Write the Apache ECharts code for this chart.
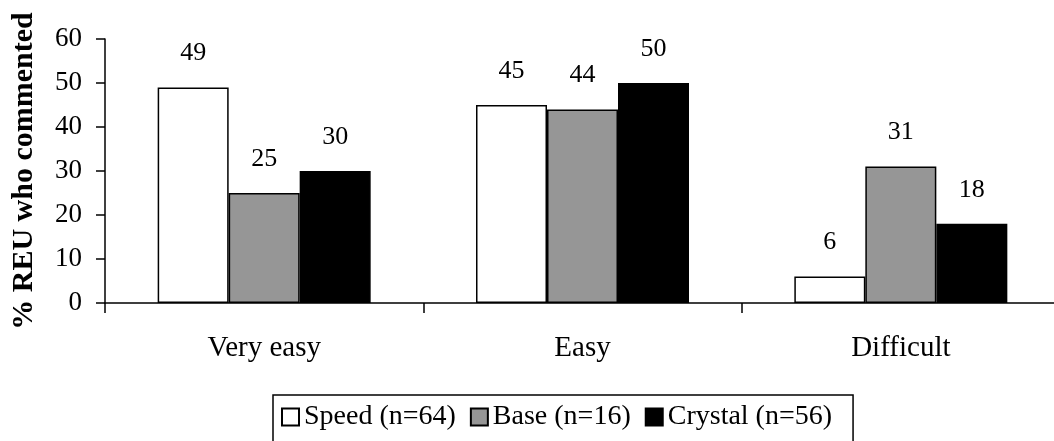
<!DOCTYPE html>
<html>
<head>
<meta charset="utf-8">
<script src="https://cdn.jsdelivr.net/npm/echarts@6/dist/echarts.min.js"></script>
<style>
html,body{margin:0;padding:0;background:#fff;}
#chart{width:1054px;height:441px;}
</style>
</head>
<body>
<div id="chart"></div>
<script>
const categories = ['Very easy', 'Easy', 'Difficult'];
const speed = [49, 45, 6];
const base = [25, 44, 31];
const crystal = [30, 50, 18];
const seriesNames = ['Speed (n=64)', 'Base (n=16)', 'Crystal (n=56)'];
const yTicks = [0, 10, 20, 30, 40, 50, 60];

const FONT = '"Liberation Serif", "Times New Roman", serif';
const chart = echarts.init(document.getElementById('chart'));

function mk(name, data, color) {
  return {
    name: name,
    type: 'bar',
    data: data,
    barWidth: 71,
    barGap: '0%',
    itemStyle: { color: color, borderColor: '#000', borderWidth: 1.5 },
    label: {
      show: true, position: 'top', distance: 21,
      color: '#000', fontFamily: FONT, fontSize: 26
    },
    emphasis: { disabled: true },
    animation: false
  };
}

chart.setOption({
  animation: false,
  backgroundColor: '#fff',
  textStyle: { fontFamily: FONT, color: '#000' },
  grid: { left: 105, right: -6, top: 39, bottom: 138, containLabel: false, outerBoundsMode: 'none' },
  legend: {
    data: seriesNames,
    left: 273, top: 395,
    orient: 'horizontal',
    icon: 'rect',
    itemWidth: 17, itemHeight: 17,
    itemGap: 14,
    padding: [8, 21, 20, 8],
    borderColor: '#000', borderWidth: 1.5,
    textStyle: { fontFamily: FONT, fontSize: 28, color: '#000' }
  },
  xAxis: {
    type: 'category',
    data: categories,
    axisLine: { lineStyle: { color: '#000', width: 1.5 } },
    axisTick: { show: true, length: 10, lineStyle: { color: '#000', width: 1.5 }, alignWithLabel: false },
    axisLabel: { color: '#000', fontFamily: FONT, fontSize: 29, margin: 31 },
    splitLine: { show: false }
  },
  yAxis: {
    type: 'value',
    min: 0, max: 60, interval: 10,
    name: '% REU who commented',
    nameLocation: 'middle',
    nameRotate: 90,
    nameGap: 66,
    nameTextStyle: { fontFamily: FONT, fontSize: 30, fontWeight: 'bold', color: '#000' },
    axisLine: { show: true, lineStyle: { color: '#000', width: 1.5 } },
    axisTick: { show: true, length: 9, lineStyle: { color: '#000', width: 1.5 } },
    axisLabel: { color: '#000', fontFamily: FONT, fontSize: 27, margin: 23,
      formatter: function (v) { return yTicks.indexOf(v) >= 0 ? String(v) : ''; } },
    splitLine: { show: false }
  },
  series: [
    mk(seriesNames[0], speed, '#ffffff'),
    mk(seriesNames[1], base, '#969696'),
    mk(seriesNames[2], crystal, '#000000')
  ]
});
</script>
</body>
</html>
